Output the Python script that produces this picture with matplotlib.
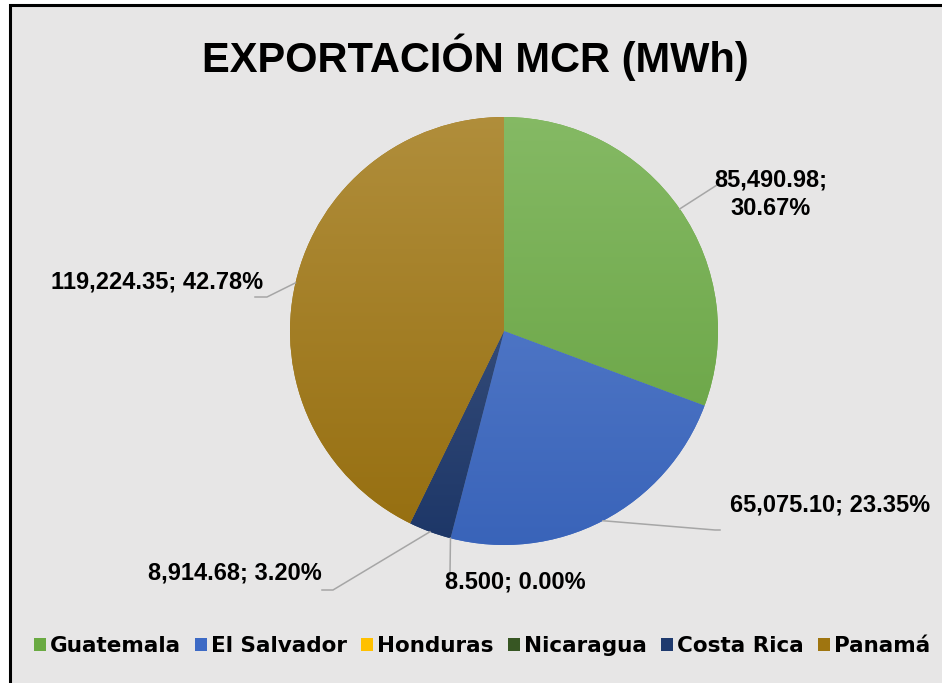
import numpy as np
import matplotlib

matplotlib.use("Agg")
import matplotlib.pyplot as plt  # noqa: E402
from matplotlib.colors import LinearSegmentedColormap, to_rgb  # noqa: E402
from matplotlib.patches import Rectangle, Patch  # noqa: E402
from matplotlib.lines import Line2D  # noqa: E402

# data
COUNTRIES = ["Guatemala", "El Salvador", "Honduras", "Nicaragua", "Costa Rica", "Panamá"]
MWH = [85490.98, 65075.10, 8.5, 0.0, 8914.68, 119224.35]
DECIMALS = [2, 2, 3, 2, 2, 2]
COLORS = ["#6aaa42", "#3d6ac5", "#ffc000", "#375623", "#1f3a6e", "#9f7510"]
TITLE = "EXPORTACIÓN MCR (MWh)"

# layout (pixels in a 942x683 canvas)
W, H = 942, 683
CX, CY, R = 504, 331, 214
BG = "#e7e6e6"
LEADER = "#a6a6a6"
# per slice: (elbow, end, text anchor, ha, two_lines)
LABEL_LAYOUT = {
    "Guatemala": ((717, 185), (722, 185), (771, 194), "center", True),
    "El Salvador": ((715, 530), (720, 530), (730, 505), "left", False),
    "Honduras": ((450, 573), (450, 573), (445, 582), "left", False),
    "Costa Rica": ((333, 590), (322, 590), (322, 573), "right", False),
    "Panamá": ((267, 297), (255, 297), (263, 282), "right", False),
}

LABEL_FONT = dict(family=["Liberation Sans", "DejaVu Sans"], weight="bold", size=17)


def to_data(p):
    return (p[0] - CX) / R, (CY - p[1]) / R


def shade(color, amount):
    # amount > 0 lightens toward white, < 0 darkens toward black
    c = np.array(to_rgb(color))
    if amount >= 0:
        return tuple(c + (1 - c) * amount)
    return tuple(c * (1 + amount))


def main() -> None:
    fig = plt.figure(figsize=(W / 100, H / 100), dpi=100, facecolor="white")
    fig.patches.append(Rectangle((9.5 / W, -0.05), 1.2, 1.05 - 4.5 / H,
                                 transform=fig.transFigure, facecolor=BG,
                                 edgecolor="black", linewidth=2.2, zorder=-5))

    fig.text(475 / W, 1 - 72 / H, TITLE, ha="center", va="baseline",
             family=["Liberation Sans", "DejaVu Sans"],
             weight="bold", size=30)

    ax = fig.add_axes([(CX - R) / W, (H - CY - R) / H, 2 * R / W, 2 * R / H])
    ax.set_zorder(2)
    ax.patch.set_visible(False)
    wedges, _ = ax.pie(MWH, colors=COLORS, startangle=90, counterclock=False,
                       radius=1.0, wedgeprops=dict(linewidth=0))

    # vertical gradient fill like the original (lighter top, darker bottom)
    grad = np.linspace(1, 0, 256).reshape(-1, 1)
    for w, c in zip(wedges, COLORS):
        if w.theta1 == w.theta2:
            continue
        cmap = LinearSegmentedColormap.from_list("g", [shade(c, -0.06), shade(c, 0.18)])
        im = ax.imshow(grad, cmap=cmap, extent=(-1, 1, -1, 1), origin="upper",
                       aspect="auto", interpolation="bilinear", zorder=w.get_zorder() + 0.1)
        im.set_clip_path(w)

    ax.set_xlim(-1, 1)
    ax.set_ylim(-1, 1)
    ax.set_aspect("equal")
    ax.set_axis_off()

    total = sum(MWH)
    for name, val, dec, w in zip(COUNTRIES, MWH, DECIMALS, wedges):
        if name not in LABEL_LAYOUT:
            continue
        elbow, end, anchor, ha, two = LABEL_LAYOUT[name]
        mid = np.deg2rad(0.5 * (w.theta1 + w.theta2))
        x0, y0 = np.cos(mid), np.sin(mid)
        ex, ey = to_data(elbow)
        nx, ny = to_data(end)
        ax.add_line(Line2D([x0, ex, nx], [y0, ey, ny], color=LEADER,
                           linewidth=1.1, clip_on=False))
        sep = ";\n" if two else "; "
        txt = f"{val:,.{dec}f}{sep}{100 * val / total:.2f}%"
        fig.text(anchor[0] / W, 1 - anchor[1] / H, txt, ha=ha, va="center",
                 linespacing=1.3, zorder=3, **LABEL_FONT)

    handles = [Patch(facecolor=c, edgecolor="none") for c in COLORS]
    fig.legend(handles, COUNTRIES, loc="center", bbox_to_anchor=(482 / W, 1 - 646 / H),
               ncol=6, frameon=False, handlelength=0.55, handleheight=0.55,
               handletextpad=0.2, columnspacing=0.65, borderpad=0,
               prop=dict(family="DejaVu Sans", weight="bold", size=15.5))

    fig.savefig("out.png", dpi=100, facecolor="white")


if __name__ == "__main__":
    main()
